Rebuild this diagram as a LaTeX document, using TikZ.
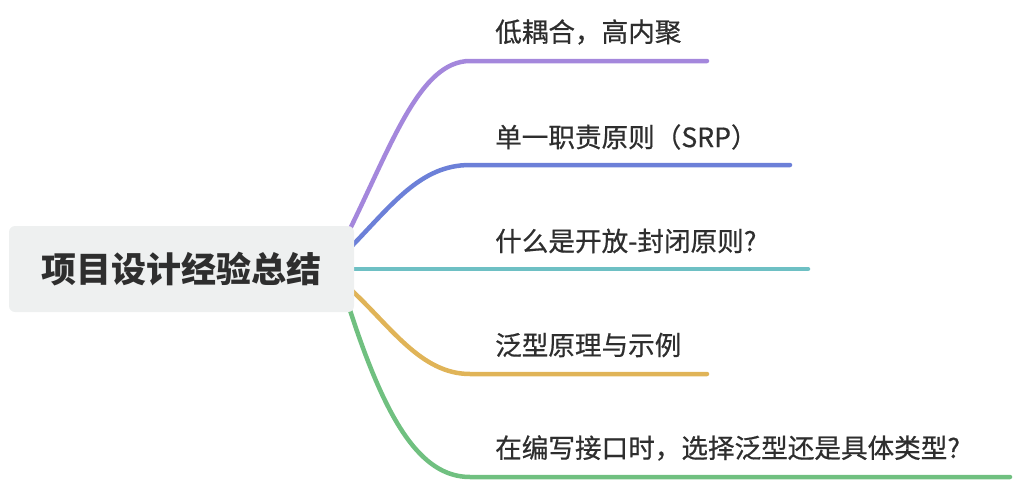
\documentclass[tikz,border=0pt]{standalone}
\usepackage{fontspec}
\newfontfamily\cjk{Noto Sans CJK SC}
\newfontfamily\cjkm[FakeBold=0.6]{Noto Sans CJK SC}
\definecolor{cpurple}{HTML}{A487DC}
\definecolor{cblue}{HTML}{6C80D8}
\definecolor{cteal}{HTML}{6EC0C4}
\definecolor{cyellow}{HTML}{E0B458}
\definecolor{cgreen}{HTML}{70C080}
\definecolor{rootfill}{HTML}{EEF0F0}
\definecolor{txt}{HTML}{2E2E2E}
\begin{document}
\begin{tikzpicture}[x=1pt,y=-1pt,
  branch/.style={line width=4.5pt, line cap=round},
  leaftext/.style={anchor=west, inner sep=0pt, text=txt, font=\cjkm\fontsize{26.6}{30}\selectfont},
  rootbox/.style={fill=rootfill, rounded corners=6pt, minimum width=345pt, minimum height=86pt, inner sep=0pt, text=txt, font=\cjk\bfseries\fontsize{35}{40}\selectfont}]
\useasboundingbox (0,0) rectangle (1020,482);
% start points (hidden behind root box)
\coordinate (s1) at (348,233);
\coordinate (s2) at (348,250);
\coordinate (s3) at (348,269);
\coordinate (s4) at (348,287);
\coordinate (s5) at (348,304);
% end points
\coordinate (e1) at (707,61);
\coordinate (e2) at (790,165);
\coordinate (e3) at (808,269);
\coordinate (e4) at (707,374);
\coordinate (e5) at (1010,477);
% branch texts
\node[leaftext] (t1) at (495,32) {低耦合，高内聚};
\node[leaftext] (t2) at (495,137) {单一职责原则（SRP）};
\node[leaftext] (t3) at (495,241) {什么是开放-封闭原则?};
\node[leaftext] (t4) at (495,345) {泛型原理与示例};
\node[leaftext] (t5) at (495,448) {在编写接口时，选择泛型还是具体类型?};
% branches
\draw[branch, cpurple] (s1) .. controls (392,144) and (420,61) .. (470,61) -- (e1);
\draw[branch, cblue] (s2) .. controls (392,205) and (420,165) .. (470,165) -- (e2);
\draw[branch, cteal] (s3) -- (e3);
\draw[branch, cyellow] (s4) .. controls (390,325) and (420,374) .. (470,374) -- (e4);
\draw[branch, cgreen] (s5) .. controls (385,420) and (420,477) .. (470,477) -- (e5);
% root
\node[rootbox] (root) at (181.5,269) {项目设计经验总结};
\end{tikzpicture}
\end{document}
